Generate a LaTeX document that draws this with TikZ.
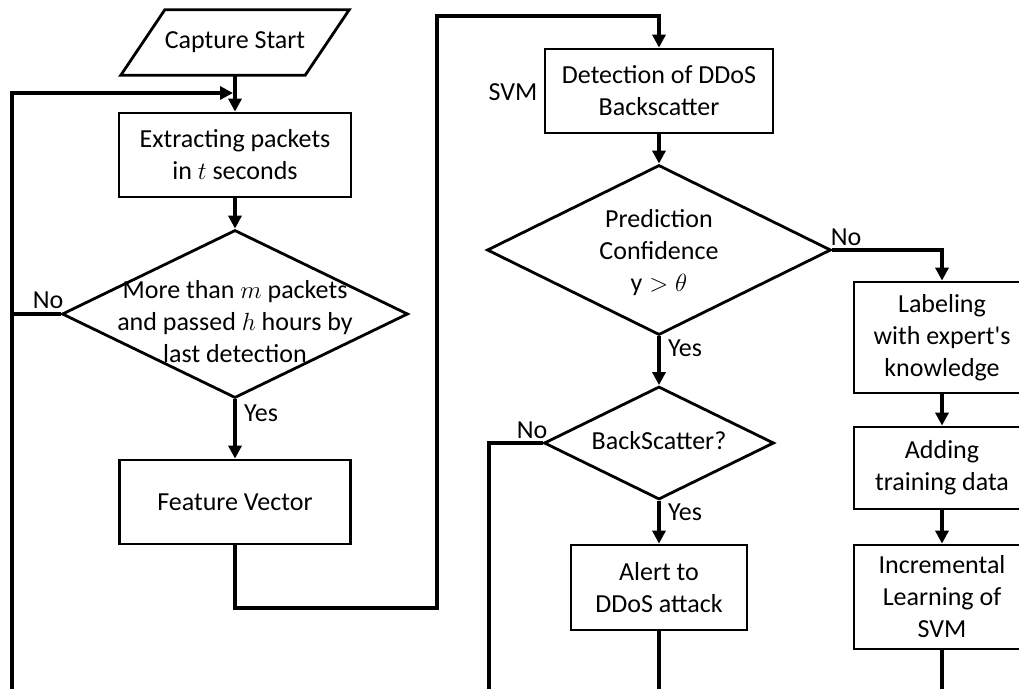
\documentclass[tikz,border=0pt]{standalone}
\usepackage{fontspec}
\setmainfont{Carlito}
\usetikzlibrary{arrows.meta,shapes.geometric}
\begin{document}
\begin{tikzpicture}[x=1pt,y=-1pt,
  txt/.style={font=\fontsize{26}{32}\selectfont, align=center, inner sep=0pt},
  procbox/.style 2 args={draw, line width=2.8pt, rectangle, minimum width=#1, minimum height=#2, inner sep=0pt, txt},
  decision/.style 2 args={draw, line width=2.8pt, diamond, minimum width=#1, minimum height=#2, inner sep=0pt},
  shapeline/.style={line width=2.8pt, line join=miter},
  wire/.style={line width=4.2pt, line join=miter},
  conn/.style={wire, -{Triangle[length=13pt,width=13pt]}}
]
\clip (0,0) rectangle (1019,688);
\fill[white] (0,0) rectangle (1019,688);

% left column
\node[txt, minimum width=184pt, minimum height=65pt] (cap) at (235,42.5) {Capture Start};
\draw[shapeline] ([xshift=-22pt]cap.south west) -- ([xshift=-22pt]cap.south east) -- ([xshift=22pt]cap.north east) -- ([xshift=22pt]cap.north west) -- cycle;
\node[procbox={232pt}{84pt}] (ext) at (235,155) {Extracting packets\\in $t$ seconds};
\node[decision={346pt}{168pt}] (d1) at (235,314) {};
\node[txt] (d1t) at (235,322) {More than $m$ packets\\and passed $h$ hours by\\last detection};
\node[procbox={231pt}{84pt}] (fv) at (235,502) {Feature Vector};

% middle column
\node[procbox={228pt}{84pt}] (det) at (659,91) {Detection of DDoS\\Backscatter};
\node[txt] (svm) at (513,92) {SVM};
\node[decision={344pt}{170pt}] (d2) at (659,250) {};
\node[txt] (d2t) at (659,253) {Prediction\\Confidence\\$\mathrm{y}>\theta$};
\node[decision={230pt}{113pt}] (d3) at (659,443) {};
\node[txt] (d3t) at (659,441) {BackScatter?};
\node[procbox={176pt}{85pt}] (alert) at (659,587.5) {Alert to\\DDoS attack};

% right column
\node[procbox={176pt}{111pt}] (lab) at (942,337.5) {Labeling\\with expert\textquotesingle s\\knowledge};
\node[procbox={176pt}{82pt}] (add) at (942,468) {Adding\\training data};
\node[procbox={176pt}{104pt}] (inc) at (942,597) {Incremental\\Learning of\\SVM};

% labels
\node[txt] (no1) at (48,300) {No};
\node[txt] (yes1) at (261,413) {Yes};
\node[txt] (no2) at (846,237) {No};
\node[txt] (yes2) at (685,348) {Yes};
\node[txt] (no3) at (532,430) {No};
\node[txt] (yes3) at (685,512) {Yes};

% coordinates
\coordinate (bl) at (12,700);
\coordinate (lj) at (233,93);
\coordinate (c2) at (437,608);
\coordinate (c3) at (437,16);
\coordinate (bm) at (489,700);
\coordinate (ba) at (659,700);
\coordinate (bi) at (942,700);

% connectors
\draw[conn] (cap.south) -- (ext.north);
\draw[conn] (bl) |- (lj);
\draw[conn] (ext.south) -- (d1.north);
\draw[wire] (d1.west) -- (d1.west -| bl);
\draw[conn] (d1.south) -- (fv.north);
\draw[conn] (fv.south) |- (c2) -- (c3) -| (det.north);
\draw[conn] (det.south) -- (d2.north);
\draw[conn] (d2.east) -| (lab.north);
\draw[conn] (d2.south) -- (d3.north);
\draw[wire] (d3.west) -| (bm);
\draw[conn] (d3.south) -- (alert.north);
\draw[wire] (alert.south) -- (ba);
\draw[conn] (lab.south) -- (add.north);
\draw[conn] (add.south) -- (inc.north);
\draw[wire] (inc.south) -- (bi);
\end{tikzpicture}
\end{document}
